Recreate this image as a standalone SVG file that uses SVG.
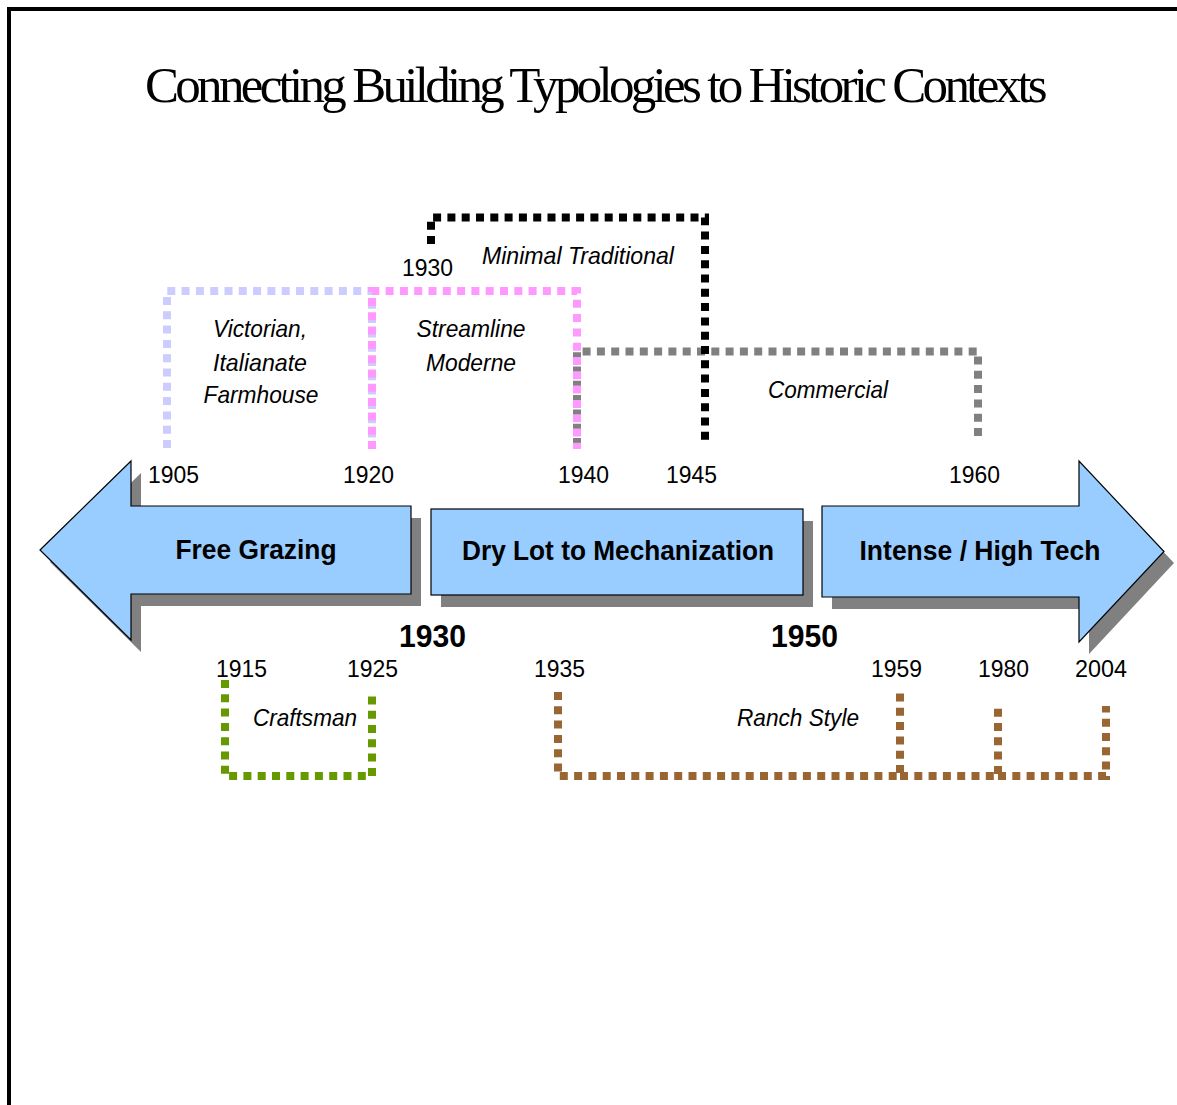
<svg xmlns="http://www.w3.org/2000/svg" width="1177" height="1105" viewBox="0 0 1177 1105">
<style>
.title{font-family:"Liberation Serif","Times New Roman",serif;font-size:51px;fill:#000;letter-spacing:-3.7px}
.band{font-family:"Liberation Sans",Arial,sans-serif;font-size:27px;font-weight:bold;fill:#000;text-anchor:middle}
.yr{font-family:"Liberation Sans",Arial,sans-serif;font-size:24px;fill:#000}
.byr{font-family:"Liberation Sans",Arial,sans-serif;font-size:32px;font-weight:bold;fill:#000}
.lab{font-family:"Liberation Sans",Arial,sans-serif;font-size:24px;font-style:italic;fill:#000;text-anchor:middle}
.shape{fill:#99CCFF;stroke:#000;stroke-width:1.2}
.shadow{fill:#808080}
.dot{fill:none;stroke-width:8;stroke-dasharray:8 6.3;stroke-linecap:butt}
</style>
<rect x="0" y="0" width="1177" height="1105" fill="#fff"/>
<rect x="9" y="9" width="1200" height="1200" fill="none" stroke="#000" stroke-width="4"/>
<text class="title" x="145" y="102">Connecting Building Typologies to Historic Contexts</text>

<g id="connectors">
  <path class="dot" stroke="#CCCCFF" d="M167,448 V291 H372 V448"/>
  <path class="dot" stroke="#808080" d="M577,446 V351.5 H978 V440"/>
  <path class="dot" stroke="#FF99FF" d="M372,449 V291 H577 V449"/>
  <path class="dot" stroke="#000000" d="M431,244 V217.5 H705 V446"/>
  <path class="dot" stroke="#669900" d="M225,680 V776 H372 V692"/>
  <path class="dot" stroke="#996633" d="M558,692 V776 H900 V692"/>
  <path class="dot" stroke="#996633" d="M900,776 H998 V708"/>
  <path class="dot" stroke="#996633" d="M998,776 H1106 V706"/>
</g>

<g id="node-free-grazing">
  <polygon class="shadow" points="50,562 141,473 141,518 421,518 421,606 141,606 141,652"/>
  <polygon class="shape" points="40,550 131,461 131,506 411,506 411,594 131,594 131,640"/>
  <text class="band" x="256" y="559" textLength="161" lengthAdjust="spacingAndGlyphs">Free Grazing</text>
</g>
<g id="node-dry-lot">
  <rect class="shadow" x="441" y="521" width="372" height="86"/>
  <rect class="shape" x="431" y="509" width="372" height="86"/>
  <text class="band" x="618" y="560" textLength="312" lengthAdjust="spacingAndGlyphs">Dry Lot to Mechanization</text>
</g>
<g id="node-intense">
  <polygon class="shadow" points="832,518 1089,518 1089,473 1174,563 1089,654 1089,609 832,609"/>
  <polygon class="shape" points="822,506 1079,506 1079,461 1164,551.5 1079,642 1079,597 822,597"/>
  <text class="band" x="980" y="560" textLength="241" lengthAdjust="spacingAndGlyphs">Intense / High Tech</text>
</g>

<g id="years-top">
  <text class="yr" x="148" y="483" textLength="51" lengthAdjust="spacingAndGlyphs">1905</text>
  <text class="yr" x="343" y="483" textLength="51" lengthAdjust="spacingAndGlyphs">1920</text>
  <text class="yr" x="558" y="483" textLength="51" lengthAdjust="spacingAndGlyphs">1940</text>
  <text class="yr" x="666" y="483" textLength="51" lengthAdjust="spacingAndGlyphs">1945</text>
  <text class="yr" x="949" y="483" textLength="51" lengthAdjust="spacingAndGlyphs">1960</text>
  <text class="yr" x="402" y="276" textLength="51" lengthAdjust="spacingAndGlyphs">1930</text>
</g>
<g id="years-bottom">
  <text class="yr" x="216" y="677" textLength="51" lengthAdjust="spacingAndGlyphs">1915</text>
  <text class="yr" x="347" y="677" textLength="51" lengthAdjust="spacingAndGlyphs">1925</text>
  <text class="yr" x="534" y="677" textLength="51" lengthAdjust="spacingAndGlyphs">1935</text>
  <text class="yr" x="871" y="677" textLength="51" lengthAdjust="spacingAndGlyphs">1959</text>
  <text class="yr" x="978" y="677" textLength="51" lengthAdjust="spacingAndGlyphs">1980</text>
  <text class="yr" x="1075" y="677" textLength="52" lengthAdjust="spacingAndGlyphs">2004</text>
  <text class="byr" x="399" y="647" textLength="67" lengthAdjust="spacingAndGlyphs">1930</text>
  <text class="byr" x="771" y="647" textLength="67" lengthAdjust="spacingAndGlyphs">1950</text>
</g>

<g id="node-victorian">
  <text class="lab" x="260" y="337" textLength="94" lengthAdjust="spacingAndGlyphs">Victorian,</text>
  <text class="lab" x="260" y="371" textLength="94" lengthAdjust="spacingAndGlyphs">Italianate</text>
  <text class="lab" x="261" y="403" textLength="115" lengthAdjust="spacingAndGlyphs">Farmhouse</text>
</g>
<g id="node-streamline">
  <text class="lab" x="471" y="337" textLength="109" lengthAdjust="spacingAndGlyphs">Streamline</text>
  <text class="lab" x="471" y="371" textLength="90" lengthAdjust="spacingAndGlyphs">Moderne</text>
</g>
<g id="node-minimal">
  <text class="lab" x="578" y="264" textLength="192" lengthAdjust="spacingAndGlyphs">Minimal Traditional</text>
</g>
<g id="node-commercial">
  <text class="lab" x="828" y="398" textLength="120" lengthAdjust="spacingAndGlyphs">Commercial</text>
</g>
<g id="node-craftsman">
  <text class="lab" x="305" y="726" textLength="104" lengthAdjust="spacingAndGlyphs">Craftsman</text>
</g>
<g id="node-ranch">
  <text class="lab" x="798" y="726" textLength="122" lengthAdjust="spacingAndGlyphs">Ranch Style</text>
</g>
</svg>
